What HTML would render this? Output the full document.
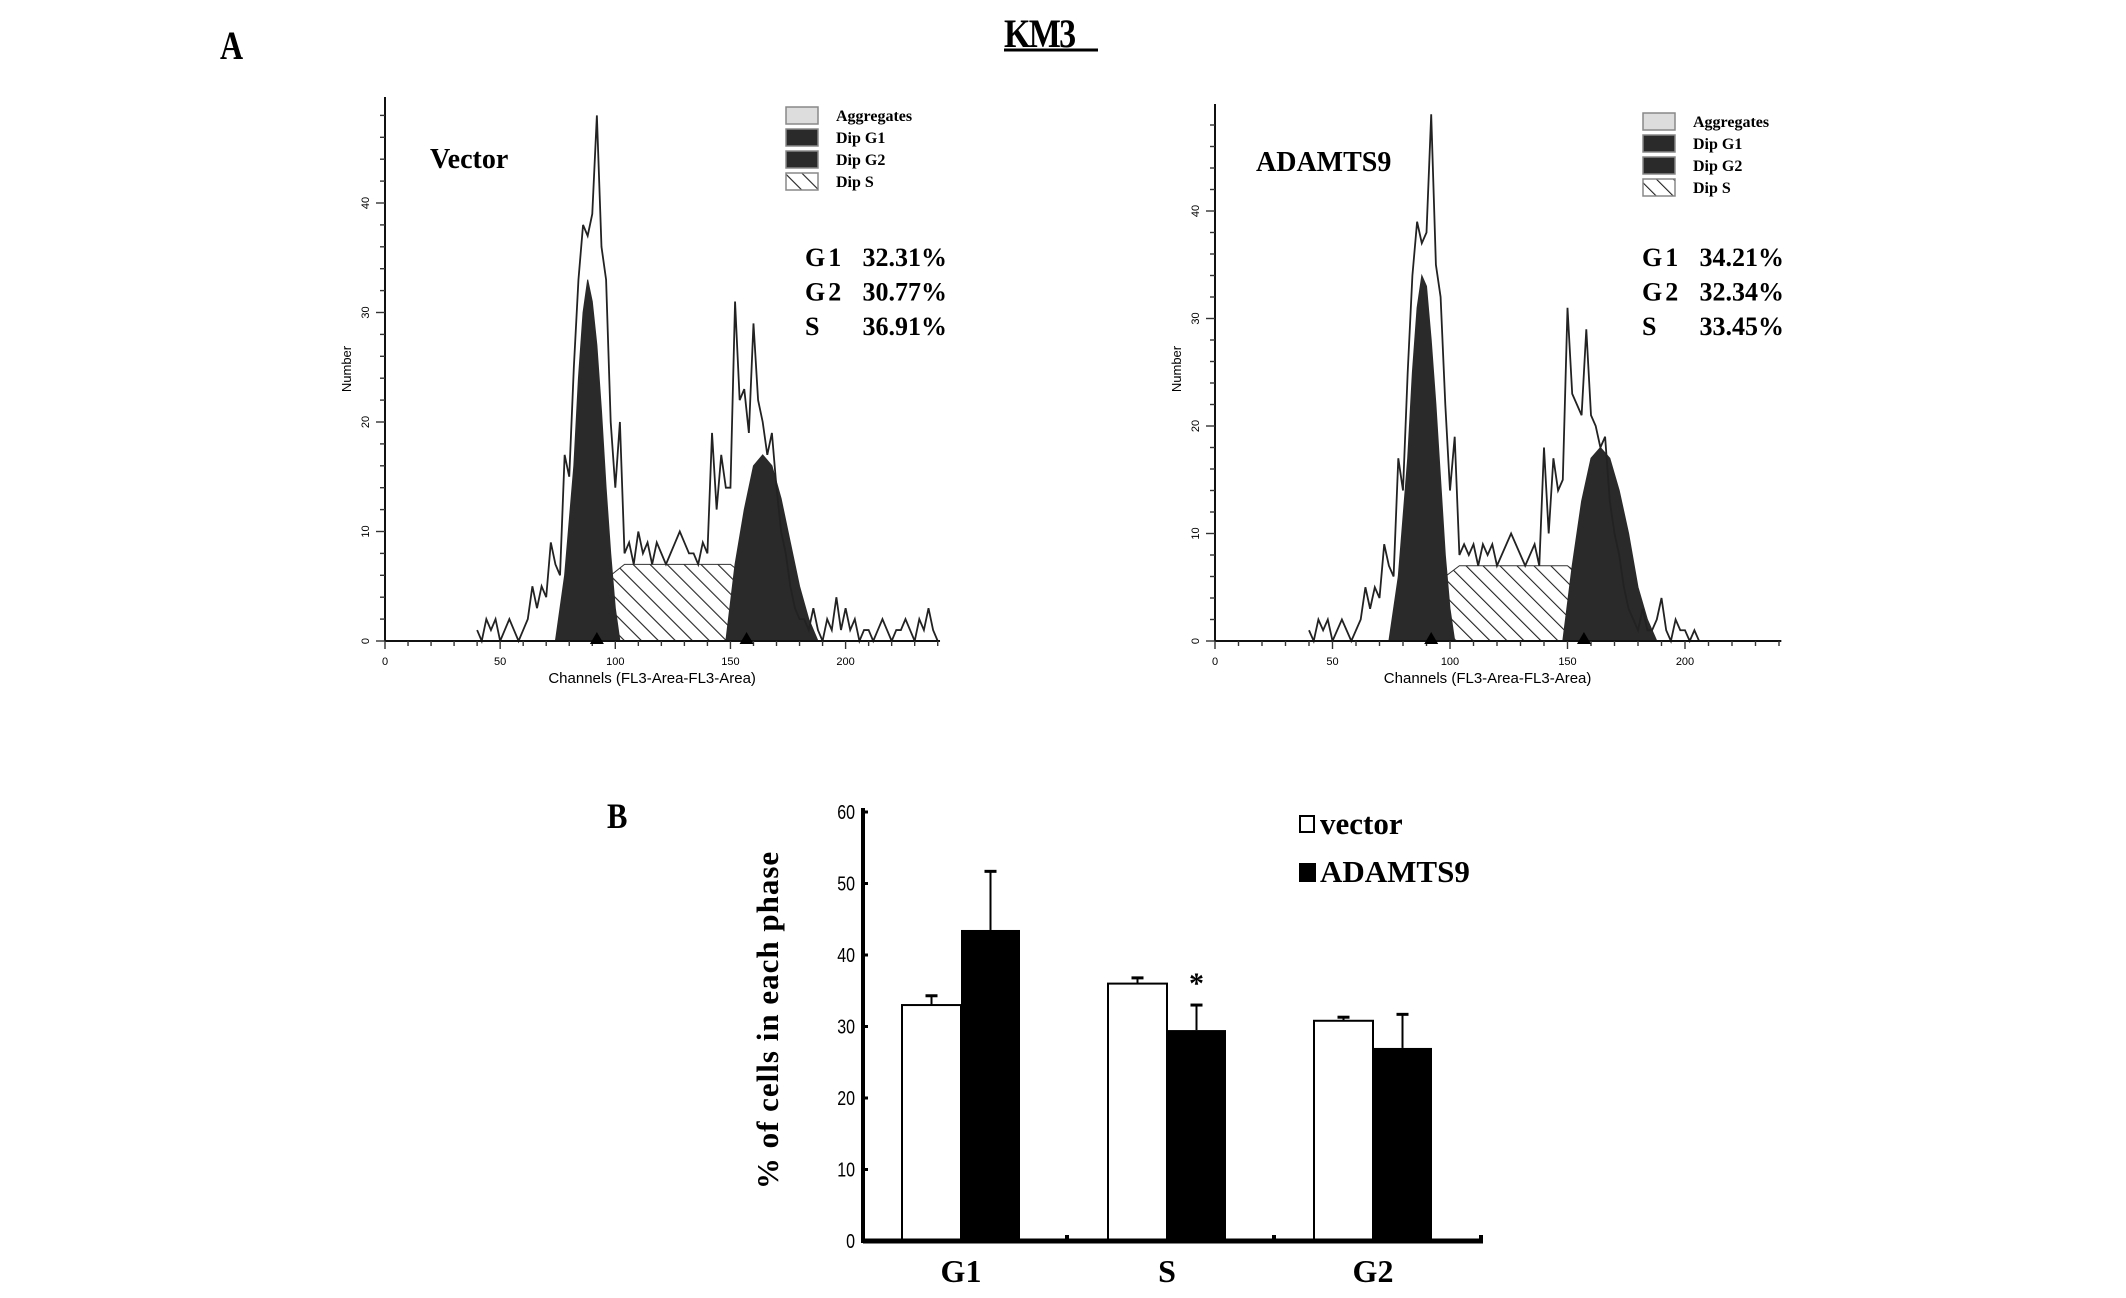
<!DOCTYPE html>
<html><head><meta charset="utf-8">
<style>
html,body{margin:0;padding:0;background:#fff;}
svg{display:block;}
.serif{font-family:"Liberation Serif",serif;font-weight:bold;}
.sans{font-family:"Liberation Sans",sans-serif;}
</style></head>
<body>
<svg id="fig" width="2126" height="1298" viewBox="0 0 2126 1298" xmlns="http://www.w3.org/2000/svg">
<defs>
<pattern id="hatch" patternUnits="userSpaceOnUse" width="12" height="12" patternTransform="rotate(-45)">
<rect width="12" height="12" fill="#fff"/><line x1="0" y1="0" x2="0" y2="12" stroke="#222" stroke-width="2.2"/>
</pattern>
</defs>
<text x="220" y="59" class="serif" font-size="40" transform="translate(220 0) scale(0.8 1) translate(-220 0)">A</text>
<g>
<text x="1004" y="47" class="serif" font-size="40" transform="translate(1004 0) scale(0.85 1) translate(-1004 0)" letter-spacing="-2">KM3</text>
<line x1="1004" y1="50" x2="1098" y2="50" stroke="#000" stroke-width="3"/>
</g>
<text x="607" y="828" class="serif" font-size="36" transform="translate(607 0) scale(0.85 1) translate(-607 0)">B</text>
<g id="histA1"></g>
<g id="histA2"></g>
<g id="bars"></g>
</svg>
<script>
// Histogram data (channels 40..240, step 2)
const histChannels = [];
for (let c = 40; c <= 240; c += 2) histChannels.push(c);
const vectorCounts = [1,0,2,1,2,0,1,2,1,0,1,2,5,3,5,4,9,7,6,17,15,25,33,38,37,39,48,36,33,20,14,20,8,9,7,10,8,9,7,9,8,7,8,9,10,9,8,8,7,9,8,19,12,17,14,14,31,22,23,19,29,22,20,17,19,14,10,8,5,3,2,2,1,3,1,0,2,1,4,1,3,1,2,0,1,1,0,1,2,1,0,1,1,2,1,0,2,1,3,1,0];
const adamtsCounts = [1,0,2,1,2,0,1,2,1,0,1,2,5,3,5,4,9,7,6,17,14,25,34,39,37,38,49,35,32,22,14,19,8,9,8,9,7,9,8,9,7,8,9,10,9,8,7,8,9,7,18,10,17,14,15,31,23,22,21,29,21,20,18,19,13,10,8,5,3,2,1,3,1,1,2,4,1,0,2,1,1,0,1,0,0,0,0,0,0,0,0,0,0,0,0,0,0,0,0,0,0];
const g1Channels = [74,78,82,84,86,88,90,92,94,96,98,100,102];
const g1VectorFit = [0,6,16,24,30,33,31,27,21,14,8,3,0];
const g1AdamtsFit = [0,6,17,25,31,34,33,28,22,15,8,3,0];
const sChannels = [80,86,92,98,104,150,156,162,168,174,180];
const sVectorFit = [0,2,4,6,7,7,6,5,3,1,0];
const sAdamtsFit = [0,2,4,6,7,7,6,5,3,1,0];
const g2Channels = [148,152,156,160,164,168,172,176,180,184,188];
const g2VectorFit = [0,7,12,16,17,16,13,9,5,2,0];
const g2AdamtsFit = [0,7,13,17,18,17,14,10,5,2,0];
const xTickLabels = ["0","50","100","150","200"];
const yTickLabels = ["0","10","20","30","40"];
const legendLabels = ["Aggregates","Dip G1","Dip G2","Dip S"];

const NS = "http://www.w3.org/2000/svg";
function mk(tag, attrs, parent) {
  const e = document.createElementNS(NS, tag);
  for (const k in attrs) e.setAttribute(k, attrs[k]);
  parent.appendChild(e);
  return e;
}

function drawHist(g, P, counts, g1, sFit, g2, title, stats) {
  const X = c => P.x0 + c * P.kx;
  const Y = v => P.y0 - v * P.ky;
  let d = sChannels.map((c, i) => (i ? "L" : "M") + X(c) + " " + Y(sFit[i])).join(" ") + " Z";
  let e = mk("path", {d: d, fill: "url(#hatch)", stroke: "#333", "stroke-width": 1}, g);
  
  
  d = g1Channels.map((c, i) => (i ? "L" : "M") + X(c) + " " + Y(g1[i])).join(" ") + " Z";
  e = mk("path", {d: d, fill: "#2a2a2a", stroke: "#2a2a2a", "stroke-width": 1}, g);
  
  
  d = g2Channels.map((c, i) => (i ? "L" : "M") + X(c) + " " + Y(g2[i])).join(" ") + " Z";
  e = mk("path", {d: d, fill: "#2a2a2a", stroke: "#2a2a2a", "stroke-width": 1}, g);
  
  
  d = histChannels.map((c, i) => (i ? "L" : "M") + X(c) + " " + Y(counts[i])).join(" ");
  e = mk("path", {d: d, fill: "none", stroke: "#222", "stroke-width": 1.8}, g);
  
  
  e = mk("line", {x1: P.x0, y1: P.top, x2: P.x0, y2: P.y0, stroke: "#111", "stroke-width": 2}, g);
  
  
  e = mk("line", {x1: P.x0, y1: P.y0, x2: X(241), y2: P.y0, stroke: "#111", "stroke-width": 2}, g);
  
  
  for (let v = 0; v <= 48; v += 2) {
    const L = v % 10 === 0 ? 9 : 5;
    mk("line", {x1: P.x0 - L, y1: Y(v), x2: P.x0, y2: Y(v), stroke: "#333", "stroke-width": 1.4}, g);
  }
  yTickLabels.forEach((t, i) => {
    const yy = Y(i * 10);
    e = mk("text", {x: P.x0 - 16, y: yy, "font-size": 11, "text-anchor": "middle", class: "sans", transform: `rotate(-90 ${P.x0 - 16} ${yy})`}, g);
    e.textContent = t;
    
    
  });
  for (let c = 0; c <= 240; c += 10) {
    mk("line", {x1: X(c), y1: P.y0, x2: X(c), y2: P.y0 + (c % 50 === 0 ? 8 : 5), stroke: "#333", "stroke-width": 1.4}, g);
  }
  xTickLabels.forEach((t, i) => {
    const xx = X(i * 50);
    e = mk("text", {x: xx, y: P.y0 + 24, "font-size": 11, "text-anchor": "middle", class: "sans"}, g);
    e.textContent = t;
    
    
  });
  [92, 157].forEach(c => {
    e = mk("path", {d: `M${X(c)} ${P.y0 - 9} L${X(c) - 7} ${P.y0 + 3} L${X(c) + 7} ${P.y0 + 3} Z`, fill: "#000"}, g);
    
    
  });
  e = mk("text", {x: X(116), y: P.y0 + 42, "font-size": 15, "text-anchor": "middle", class: "sans"}, g);
  e.textContent = "Channels (FL3-Area-FL3-Area)";
  
  
  e = mk("text", {x: P.x0 - 34, y: P.y0 - 272, "font-size": 13, "text-anchor": "middle", class: "sans", transform: `rotate(-90 ${P.x0 - 34} ${P.y0 - 272})`}, g);
  e.textContent = "Number";
  
  
  e = mk("text", {x: P.tx, y: P.ty, "font-size": 28, class: "serif"}, g);
  e.textContent = title;
  
  
  const fills = ["#ddd", "#2a2a2a", "#2a2a2a", "url(#hatch)"];
  legendLabels.forEach((t, i) => {
    const yy = P.ly + i * 22;
    e = mk("rect", {x: P.lx, y: yy, width: 32, height: 17, fill: fills[i], stroke: "#888", "stroke-width": 1.5}, g);
    
    
    e = mk("text", {x: P.lx + 50, y: yy + 14, "font-size": 16, class: "serif"}, g);
    e.textContent = t;
    
    
  });
  stats.forEach((s, i) => {
    const yy = P.sy + i * 34.5;
    e = mk("text", {x: P.sx, y: yy, "font-size": 26, class: "serif", "letter-spacing": "3"}, g);
    e.textContent = s[0];
    
    
    e = mk("text", {x: P.sx + 142, y: yy, "font-size": 26, "text-anchor": "end", class: "serif"}, g);
    e.textContent = s[1];
    
    
  });
}

drawHist(document.getElementById("histA1"),
  {x0: 385, kx: 2.303, y0: 641, ky: 10.95, top: 97, tx: 430, ty: 168, lx: 786, ly: 107, sx: 805, sy: 266},
  vectorCounts, g1VectorFit, sVectorFit, g2VectorFit, "Vector",
  [["G1", "32.31%"], ["G2", "30.77%"], ["S", "36.91%"]]);
drawHist(document.getElementById("histA2"),
  {x0: 1215, kx: 2.35, y0: 641, ky: 10.75, top: 104, tx: 1256, ty: 171, lx: 1643, ly: 113, sx: 1642, sy: 266},
  adamtsCounts, g1AdamtsFit, sAdamtsFit, g2AdamtsFit, "ADAMTS9",
  [["G1", "34.21%"], ["G2", "32.34%"], ["S", "33.45%"]]);

// Bar chart data
const barCategories = ["G1", "S", "G2"];
const vectorValues = [33, 36, 30.8];
const vectorErrors = [1.3, 0.8, 0.5];
const adamtsValues = [43.5, 29.5, 27];
const adamtsErrors = [8.2, 3.5, 4.7];
const barYTicks = ["0","10","20","30","40","50","60"];

(function () {
  const g = document.getElementById("bars");
  const x0 = 863, y0 = 1241, ky = 7.15, xEnd = 1483;
  const Y = v => y0 - v * ky;
  const groupX = i => 902 + i * 206;
  const bw = 59;
  let e;
  barCategories.forEach((c, i) => {
    const gx = groupX(i);
    mk("line", {x1: gx + bw / 2, y1: Y(vectorValues[i]), x2: gx + bw / 2, y2: Y(vectorValues[i] + vectorErrors[i]), stroke: "#000", "stroke-width": 2}, g);
    mk("line", {x1: gx + bw / 2 - 6, y1: Y(vectorValues[i] + vectorErrors[i]), x2: gx + bw / 2 + 6, y2: Y(vectorValues[i] + vectorErrors[i]), stroke: "#000", "stroke-width": 3}, g);
    e = mk("rect", {x: gx, y: Y(vectorValues[i]), width: bw, height: vectorValues[i] * ky, fill: "#fff", stroke: "#000", "stroke-width": 2}, g);
    
    
    const ax = gx + bw;
    mk("line", {x1: ax + bw / 2, y1: Y(adamtsValues[i]), x2: ax + bw / 2, y2: Y(adamtsValues[i] + adamtsErrors[i]), stroke: "#000", "stroke-width": 2}, g);
    mk("line", {x1: ax + bw / 2 - 6, y1: Y(adamtsValues[i] + adamtsErrors[i]), x2: ax + bw / 2 + 6, y2: Y(adamtsValues[i] + adamtsErrors[i]), stroke: "#000", "stroke-width": 3}, g);
    e = mk("rect", {x: ax, y: Y(adamtsValues[i]), width: bw, height: adamtsValues[i] * ky, fill: "#000"}, g);
    
    
    e = mk("text", {x: gx + bw, y: 1282, "font-size": 32, "text-anchor": "middle", class: "serif"}, g);
    e.textContent = c;
    
    
  });
  e = mk("text", {x: groupX(1) + bw * 1.5, y: 993, "font-size": 30, "text-anchor": "middle", class: "serif"}, g);
  e.textContent = "*";
  
  
  e = mk("line", {x1: x0, y1: Y(60) - 4, x2: x0, y2: y0 + 2, stroke: "#000", "stroke-width": 4}, g);
  
  
  e = mk("line", {x1: x0, y1: y0, x2: xEnd, y2: y0, stroke: "#000", "stroke-width": 5}, g);
  
  
  [1067, 1274, 1481].forEach(x => mk("line", {x1: x, y1: y0 - 6, x2: x, y2: y0, stroke: "#000", "stroke-width": 4}, g));
  barYTicks.forEach((t, i) => {
    const yy = Y(i * 10);
    mk("line", {x1: x0, y1: yy, x2: x0 + 5, y2: yy, stroke: "#000", "stroke-width": 3}, g);
    e = mk("text", {x: x0 - 8, y: yy + 7, "font-size": 20, "text-anchor": "end", class: "sans", transform: `translate(${x0 - 8} 0) scale(0.8 1) translate(${-(x0 - 8)} 0)`}, g);
    e.textContent = t;
    
    
  });
  e = mk("text", {x: 778, y: 1020, "font-size": 31, "text-anchor": "middle", class: "serif", transform: "rotate(-90 778 1020)", "letter-spacing": "1"}, g);
  e.textContent = "% of cells in each phase";
  
  
  e = mk("rect", {x: 1300, y: 816, width: 14, height: 16, fill: "#fff", stroke: "#000", "stroke-width": 2}, g);
  
  
  e = mk("text", {x: 1320, y: 834, "font-size": 31, class: "serif"}, g);
  e.textContent = "vector";
  
  
  e = mk("rect", {x: 1299, y: 863, width: 17, height: 19, fill: "#000"}, g);
  
  
  e = mk("text", {x: 1320, y: 882, "font-size": 31, class: "serif"}, g);
  e.textContent = "ADAMTS9";
  
  
})();
</script>
</body></html>
